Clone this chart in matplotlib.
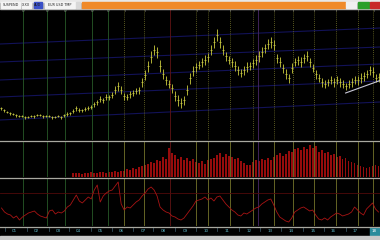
import numpy as np
import matplotlib
matplotlib.use("Agg")
import matplotlib.pyplot as plt
from matplotlib.patches import Rectangle

# price bars (close + bar range), arbitrary price units
closes = [32, 30, 28, 27, 26, 25, 24, 24, 23, 23,
          24, 24, 25, 25, 24, 24, 24, 23, 23, 24,
          23, 25, 26, 27, 29, 32, 30, 30, 31, 32,
          33, 36, 38, 41, 40, 43, 43, 45, 50, 54,
          50, 44, 43, 46, 47, 49, 50, 58, 65, 74,
          83, 90, 88, 74, 66, 60, 56, 52, 44, 40,
          37, 40, 50, 62, 69, 73, 75, 78, 80, 83,
          90, 98, 105, 98, 90, 84, 80, 78, 74, 70,
          67, 70, 73, 74, 77, 80, 84, 88, 92, 96,
          98, 95, 82, 78, 72, 66, 62, 72, 78, 80,
          78, 82, 84, 78, 72, 66, 62, 58, 56, 58,
          60, 58, 60, 58, 56, 54, 56, 58, 60, 60,
          62, 64, 66, 70, 68, 62, 63]
bar_range = [3, 3, 2, 3, 2, 3, 2, 2, 3, 2,
             2, 3, 2, 2, 3, 2, 2, 3, 2, 2,
             3, 3, 4, 3, 4, 5, 4, 3, 4, 4,
             4, 5, 5, 6, 5, 6, 5, 6, 8, 9,
             8, 7, 6, 7, 6, 6, 7, 9, 10, 11,
             12, 10, 11, 12, 10, 9, 8, 9, 10, 11,
             10, 9, 10, 11, 10, 9, 8, 9, 10, 9,
             10, 11, 12, 11, 10, 9, 8, 9, 10, 9,
             8, 9, 10, 8, 9, 10, 11, 10, 9, 10,
             11, 10, 9, 10, 9, 10, 9, 10, 8, 9,
             10, 9, 10, 9, 8, 9, 8, 9, 8, 7,
             8, 9, 8, 9, 8, 7, 8, 9, 8, 9,
             10, 9, 8, 9, 10, 8, 9]
volume = [0] * 24 + [4,
          4, 4, 3, 4, 4, 5, 4, 4, 5, 5, 4, 5, 5, 6, 5, 6, 6,
          8, 7, 9, 8, 10, 11,
          12, 13, 15, 14, 17, 16,
          20, 18, 29, 24, 22,
          18, 20, 17, 19, 16, 18,
          15, 14, 16, 13, 17, 18,
          19, 22, 24, 20, 23, 21,
          20, 18, 19, 16, 14, 12,
          12, 15, 17, 16, 18, 17,
          19, 17, 20, 22, 24, 21,
          23, 26, 25, 28, 29, 27,
          30, 28, 32, 29, 31, 25,
          27, 24, 25, 22, 23, 20,
          21, 18, 19, 16, 15, 14,
          12, 11, 10, 9, 10, 11, 12, 11]
oscillator = [18, 14, 12, 11, 8, 10, 6, 9, 11, 13,
              14, 15, 12, 10, 9, 8, 15, 16, 12, 14,
              13, 15, 19, 21, 26, 31, 25, 23, 26, 29,
              27, 36, 41, 24, 30, 33, 35, 36, 40, 44,
              22, 16, 19, 18, 21, 24, 26, 30, 33, 37,
              39, 36, 30, 19, 16, 14, 13, 10, 9, 7,
              6, 8, 12, 16, 20, 25, 26, 27, 29, 26,
              28, 25, 29, 30, 26, 22, 19, 16, 14, 11,
              10, 13, 12, 14, 16, 18, 19, 22, 24, 26,
              27, 21, 14, 9, 7, 5, 4, 8, 14, 16,
              18, 19, 17, 15, 16, 11, 7, 6, 8, 6,
              9, 11, 13, 12, 10, 11, 12, 14, 19, 16,
              13, 11, 17, 20, 23, 17, 14]

# regression channel lines: price at left and right edge
channel_left = [96, 78, 60, 43, 20]
channel_right = [112, 93, 76, 59, 38]
trend_line = [(115, 47), (127, 60)]  # (bar, price) end points

# cycle markers (bar positions) and their type
markers = [7.3, 15.3, 21.3, 30.3, 35.7, 41, 47.7, 56.3, 65, 69, 76.3, 84, 85.7,
           91, 97.3, 104.3, 111.7, 119, 124.3]
marker_kind = ['0', '0', '0', '0', '0', 'T', 'T', 'R', 'T', 'T', 'T', 'T', 'P',
               'T', 'T', 'T', 'T', 'T', 'T']
year_labels = ['01', '02', '03', '04', '05', '06', '07', '08', '09', '10',
               '11', '12', '13', '14', '15', '16', '17']
year_pos = [4.3, 11.7, 19, 25.7, 33, 40, 47.3, 54, 61.3, 68.3,
            75.3, 82.7, 89.7, 96.7, 104, 111, 118.3]

W, H = 380, 240
fig = plt.figure(figsize=(3.8, 2.4), dpi=100)
fig.patch.set_facecolor('black')


def box(x0, y0, x1, y1):
    return [x0 / W, 1 - y1 / H, (x1 - x0) / W, (y1 - y0) / H]


x = np.arange(len(closes))
xlim = (-0.5, len(closes) - 0.5)
kind_color = {'0': '#285a28', 'T': '#74742a', 'R': '#621414', 'P': '#4a2866'}

# main price panel
ax = fig.add_axes(box(0, 9, 380, 140))
ax.set_facecolor('black')
c = np.array(closes, float)
r = np.array(bar_range, float)
for lft, rgt in zip(channel_left, channel_right):
    ax.plot(xlim, [lft, rgt], color='#121258', lw=0.8)
for m, k in zip(markers, marker_kind):
    ax.axvline(m, color=kind_color[k], lw=0.6, ls=(0, (1, 1.5)) if k == 'T' else '-')
    lbl = {'0': '0', 'T': 'T'}.get(k, '')
    ax.text(m, 129, lbl, color='#8a8a8a', fontsize=3, ha='center', va='center')
ax.vlines(x, c - r * 0.5, c + r * 0.5, color='#b0b034', lw=0.7)
ax.plot(x, c, '_', color='#c4c446', ms=1.5, mew=0.6)
(tx0, ty0), (tx1, ty1) = trend_line
ax.plot([tx0, tx1], [ty0, ty1], color='#c8c8d8', lw=0.8)
ax.set_xlim(xlim)
ax.set_ylim(0, 131)
ax.axis('off')

# volume panel
axv = fig.add_axes(box(0, 141, 380, 177))
axv.set_facecolor('black')
for m, k in zip(markers, marker_kind):
    axv.axvline(m, color=kind_color[k], lw=0.6)
axv.bar(x, volume, width=0.6, color='#960c0c')
axv.set_xlim(xlim)
axv.set_ylim(0, 36)
axv.axis('off')

# oscillator panel
axo = fig.add_axes(box(0, 178, 380, 226))
axo.set_facecolor('black')
for m, k in zip(markers, marker_kind):
    axo.axvline(m, color=kind_color[k], lw=0.6)
axo.axhline(33, color='#500a0a', lw=0.6)
axo.plot(x, oscillator, color='#a81414', lw=0.6)
axo.set_xlim(xlim)
axo.set_ylim(0, 48)
axo.axis('off')

# separators
for y in (140.5, 177.5, 226.5):
    fig.add_artist(plt.Line2D([0, 1], [1 - y / H] * 2, color='#a8a8a0', lw=0.9))

# year label strip
axl = fig.add_axes(box(0, 227, 380, 236))
axl.set_facecolor('black')
for p, s in zip(year_pos, year_labels):
    axl.plot([p - 3.2, p - 3.2], [0.55, 1], color='#406070', lw=0.5)
    axl.text(p, 0.5, s, color='#5fb8c8', fontsize=3, ha='center', va='center')
axl.add_patch(Rectangle((123.3, 0.05), 2.8, 0.9, color='#2a8c9c'))
axl.text(124.7, 0.5, '18', color='white', fontsize=3, ha='center', va='center')
axl.set_xlim(xlim)
axl.set_ylim(0, 1)
axl.axis('off')

# bottom grey strip
fig.add_artist(Rectangle((0, 0), 1, 4 / H, transform=fig.transFigure, color='#c8c8c8'))

# toolbar
fig.add_artist(Rectangle((0, 1 - 9 / H), 1, 9 / H, transform=fig.transFigure, color='#b8b8b8'))
fig.add_artist(Rectangle((0, 1 - 1.5 / H), 1, 1.5 / H, transform=fig.transFigure, color='#e8e8e8'))
tools = [(1, 20, '#f4f4f4', 'SUSPEND'), (22, 31, '#f4f4f4', 'X.XX'),
         (34, 42, '#3a50c8', 'AUD'), (45, 75, '#f4f4f4', 'EUR USD TMP'), (76, 80, '#d8d8d8', ''),
         (82, 345, '#f08a2a', ''), (346, 356, '#f0f0f0', ''), (358, 369, '#2aa02a', ''),
         (370, 380, '#c82828', '')]
for x0, x1, col, txt in tools:
    fig.add_artist(Rectangle((x0 / W, 1 - 7.5 / H), (x1 - x0) / W, 5.5 / H,
                             transform=fig.transFigure, color=col))
    if txt:
        fig.text((x0 + x1) / 2 / W, 1 - 4.8 / H, txt, fontsize=2.4, ha='center',
                 va='center', color='#202020')

fig.savefig('out.png', dpi=100, facecolor='black')
